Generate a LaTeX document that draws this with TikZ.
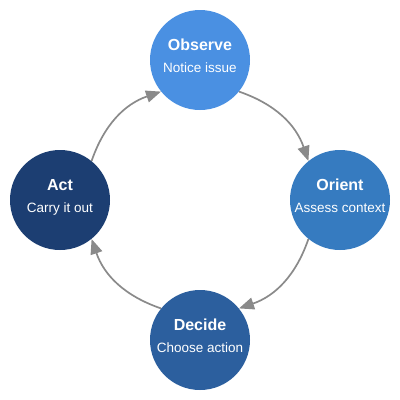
\documentclass[tikz,border=0pt]{standalone}
\usepackage{fontspec}
\setmainfont{Liberation Sans}
\usetikzlibrary{arrows.meta}
\definecolor{obscol}{HTML}{4A90E2}
\definecolor{oricol}{HTML}{367BC0}
\definecolor{deccol}{HTML}{2C5F9E}
\definecolor{actcol}{HTML}{1C3E72}
\definecolor{flowgray}{HTML}{8A8A8A}
\tikzset{
	phase/.style={circle, minimum size=100pt, inner sep=0pt},
	phasetitle/.style={anchor=base, text=white, font=\fontsize{16}{18}\selectfont\bfseries},
	phasesub/.style={anchor=base, text=white, font=\fontsize{13.5}{15}\selectfont},
	flow/.style={draw=flowgray, line width=1.7pt, -{Triangle[length=15pt,width=12pt]}}
}

\begin{document}
\begin{tikzpicture}[x=1pt, y=-1pt]
		%%%%% START %%%%%
		\useasboundingbox (0, 0) rectangle (400, 400);
		
		\node[phase, fill=obscol] (obs) at (200, 60) {};
		\node[phasetitle] (obs-t) at ([yshift=10pt]obs.center) {Observe};
		\node[phasesub] (obs-s) at ([yshift=-12pt]obs.center) {Notice issue};
		
		\node[phase, fill=oricol] (ori) at (340, 200) {};
		\node[phasetitle] (ori-t) at ([yshift=10pt]ori.center) {Orient};
		\node[phasesub] (ori-s) at ([yshift=-12pt]ori.center) {Assess context};
		
		\node[phase, fill=deccol] (dec) at (200, 340) {};
		\node[phasetitle] (dec-t) at ([yshift=10pt]dec.center) {Decide};
		\node[phasesub] (dec-s) at ([yshift=-12pt]dec.center) {Choose action};
		
		\node[phase, fill=actcol] (act) at (60, 200) {};
		\node[phasetitle] (act-t) at ([yshift=10pt]act.center) {Act};
		\node[phasesub] (act-s) at ([yshift=-12pt]act.center) {Carry it out};
		
		\draw[flow] (obs.-39) to[out=-19, in=109] (ori.129);
		\draw[flow] (ori.-129) to[out=-109, in=19] (dec.39);
		\draw[flow] (dec.141) to[out=161, in=-71] (act.-51);
		\draw[flow] (act.51) to[out=71, in=-161] (obs.-141);
		%%%%% END %%%%%
\end{tikzpicture}
\end{document}
